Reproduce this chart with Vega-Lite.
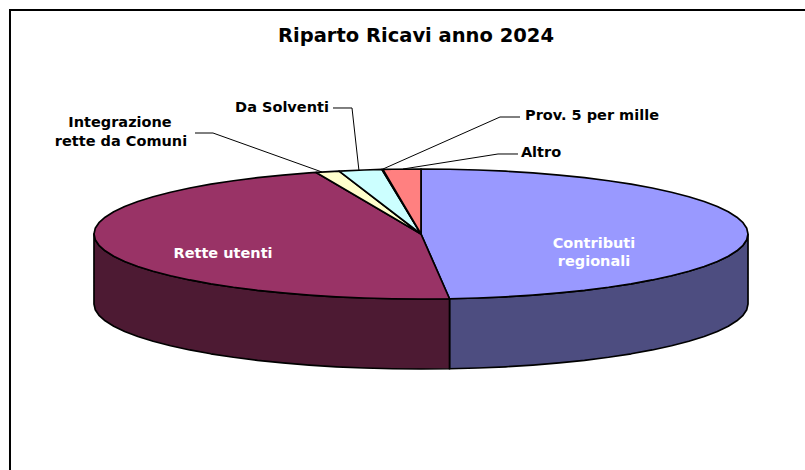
{
  "$schema": "https://vega.github.io/schema/vega-lite/v6.json",
  "autosize": "none",
  "width": 805,
  "height": 470,
  "padding": 0,
  "background": "white",
  "config": {"view": {"stroke": null}},
  "datasets": {
    "pie": [
      {"part":"Contributi lato","k":0,"u":1,"v":0},{"part":"Contributi lato","k":1,"u":0.9962,"v":-0.0872},{"part":"Contributi lato","k":2,"u":0.9848,"v":-0.1736},{"part":"Contributi lato","k":3,"u":0.9659,"v":-0.2588},{"part":"Contributi lato","k":4,"u":0.9397,"v":-0.342},{"part":"Contributi lato","k":5,"u":0.9063,"v":-0.4226},{"part":"Contributi lato","k":6,"u":0.866,"v":-0.5},{"part":"Contributi lato","k":7,"u":0.8192,"v":-0.5736},{"part":"Contributi lato","k":8,"u":0.766,"v":-0.6428},{"part":"Contributi lato","k":9,"u":0.7071,"v":-0.7071},{"part":"Contributi lato","k":10,"u":0.6428,"v":-0.766},{"part":"Contributi lato","k":11,"u":0.5736,"v":-0.8192},{"part":"Contributi lato","k":12,"u":0.5,"v":-0.866},{"part":"Contributi lato","k":13,"u":0.4226,"v":-0.9063},{"part":"Contributi lato","k":14,"u":0.342,"v":-0.9397},{"part":"Contributi lato","k":15,"u":0.2588,"v":-0.9659},{"part":"Contributi lato","k":16,"u":0.1736,"v":-0.9848},{"part":"Contributi lato","k":17,"u":0.0872,"v":-0.9962},
      {"part":"Contributi lato","k":18,"u":0.0872,"v":-2.0731},{"part":"Contributi lato","k":19,"u":0.1736,"v":-2.0617},{"part":"Contributi lato","k":20,"u":0.2588,"v":-2.0428},{"part":"Contributi lato","k":21,"u":0.342,"v":-2.0166},{"part":"Contributi lato","k":22,"u":0.4226,"v":-1.9832},{"part":"Contributi lato","k":23,"u":0.5,"v":-1.9429},{"part":"Contributi lato","k":24,"u":0.5736,"v":-1.8961},{"part":"Contributi lato","k":25,"u":0.6428,"v":-1.8429},{"part":"Contributi lato","k":26,"u":0.7071,"v":-1.784},{"part":"Contributi lato","k":27,"u":0.766,"v":-1.7197},{"part":"Contributi lato","k":28,"u":0.8192,"v":-1.6505},{"part":"Contributi lato","k":29,"u":0.866,"v":-1.5769},{"part":"Contributi lato","k":30,"u":0.9063,"v":-1.4995},{"part":"Contributi lato","k":31,"u":0.9397,"v":-1.4189},{"part":"Contributi lato","k":32,"u":0.9659,"v":-1.3357},{"part":"Contributi lato","k":33,"u":0.9848,"v":-1.2505},{"part":"Contributi lato","k":34,"u":0.9962,"v":-1.1641},{"part":"Contributi lato","k":35,"u":1,"v":-1.0769},{"part":"Contributi lato","k":36,"u":1,"v":0},

      {"part":"Rette lato","k":0,"u":0.0872,"v":-0.9962},{"part":"Rette lato","k":1,"u":0,"v":-1},{"part":"Rette lato","k":2,"u":-0.0872,"v":-0.9962},{"part":"Rette lato","k":3,"u":-0.1736,"v":-0.9848},{"part":"Rette lato","k":4,"u":-0.2588,"v":-0.9659},{"part":"Rette lato","k":5,"u":-0.342,"v":-0.9397},{"part":"Rette lato","k":6,"u":-0.4226,"v":-0.9063},{"part":"Rette lato","k":7,"u":-0.5,"v":-0.866},{"part":"Rette lato","k":8,"u":-0.5736,"v":-0.8192},{"part":"Rette lato","k":9,"u":-0.6428,"v":-0.766},{"part":"Rette lato","k":10,"u":-0.7071,"v":-0.7071},{"part":"Rette lato","k":11,"u":-0.766,"v":-0.6428},{"part":"Rette lato","k":12,"u":-0.8192,"v":-0.5736},{"part":"Rette lato","k":13,"u":-0.866,"v":-0.5},{"part":"Rette lato","k":14,"u":-0.9063,"v":-0.4226},{"part":"Rette lato","k":15,"u":-0.9397,"v":-0.342},{"part":"Rette lato","k":16,"u":-0.9659,"v":-0.2588},{"part":"Rette lato","k":17,"u":-0.9848,"v":-0.1736},{"part":"Rette lato","k":18,"u":-0.9962,"v":-0.0872},{"part":"Rette lato","k":19,"u":-1,"v":0},
      {"part":"Rette lato","k":20,"u":-1,"v":-1.0769},{"part":"Rette lato","k":21,"u":-0.9962,"v":-1.1641},{"part":"Rette lato","k":22,"u":-0.9848,"v":-1.2505},{"part":"Rette lato","k":23,"u":-0.9659,"v":-1.3357},{"part":"Rette lato","k":24,"u":-0.9397,"v":-1.4189},{"part":"Rette lato","k":25,"u":-0.9063,"v":-1.4995},{"part":"Rette lato","k":26,"u":-0.866,"v":-1.5769},{"part":"Rette lato","k":27,"u":-0.8192,"v":-1.6505},{"part":"Rette lato","k":28,"u":-0.766,"v":-1.7197},{"part":"Rette lato","k":29,"u":-0.7071,"v":-1.784},{"part":"Rette lato","k":30,"u":-0.6428,"v":-1.8429},{"part":"Rette lato","k":31,"u":-0.5736,"v":-1.8961},{"part":"Rette lato","k":32,"u":-0.5,"v":-1.9429},{"part":"Rette lato","k":33,"u":-0.4226,"v":-1.9832},{"part":"Rette lato","k":34,"u":-0.342,"v":-2.0166},{"part":"Rette lato","k":35,"u":-0.2588,"v":-2.0428},{"part":"Rette lato","k":36,"u":-0.1736,"v":-2.0617},{"part":"Rette lato","k":37,"u":-0.0872,"v":-2.0731},{"part":"Rette lato","k":38,"u":0,"v":-2.0769},{"part":"Rette lato","k":39,"u":0.0872,"v":-2.0731},{"part":"Rette lato","k":40,"u":0.0872,"v":-0.9962},

      {"part":"Contributi regionali","k":0,"u":0,"v":0},{"part":"Contributi regionali","k":1,"u":0,"v":1},{"part":"Contributi regionali","k":2,"u":0.0872,"v":0.9962},{"part":"Contributi regionali","k":3,"u":0.1736,"v":0.9848},{"part":"Contributi regionali","k":4,"u":0.2588,"v":0.9659},{"part":"Contributi regionali","k":5,"u":0.342,"v":0.9397},{"part":"Contributi regionali","k":6,"u":0.4226,"v":0.9063},{"part":"Contributi regionali","k":7,"u":0.5,"v":0.866},{"part":"Contributi regionali","k":8,"u":0.5736,"v":0.8192},{"part":"Contributi regionali","k":9,"u":0.6428,"v":0.766},{"part":"Contributi regionali","k":10,"u":0.7071,"v":0.7071},{"part":"Contributi regionali","k":11,"u":0.766,"v":0.6428},{"part":"Contributi regionali","k":12,"u":0.8192,"v":0.5736},{"part":"Contributi regionali","k":13,"u":0.866,"v":0.5},{"part":"Contributi regionali","k":14,"u":0.9063,"v":0.4226},{"part":"Contributi regionali","k":15,"u":0.9397,"v":0.342},{"part":"Contributi regionali","k":16,"u":0.9659,"v":0.2588},{"part":"Contributi regionali","k":17,"u":0.9848,"v":0.1736},{"part":"Contributi regionali","k":18,"u":0.9962,"v":0.0872},{"part":"Contributi regionali","k":19,"u":1,"v":0},{"part":"Contributi regionali","k":20,"u":0.9962,"v":-0.0872},{"part":"Contributi regionali","k":21,"u":0.9848,"v":-0.1736},{"part":"Contributi regionali","k":22,"u":0.9659,"v":-0.2588},{"part":"Contributi regionali","k":23,"u":0.9397,"v":-0.342},{"part":"Contributi regionali","k":24,"u":0.9063,"v":-0.4226},{"part":"Contributi regionali","k":25,"u":0.866,"v":-0.5},{"part":"Contributi regionali","k":26,"u":0.8192,"v":-0.5736},{"part":"Contributi regionali","k":27,"u":0.766,"v":-0.6428},{"part":"Contributi regionali","k":28,"u":0.7071,"v":-0.7071},{"part":"Contributi regionali","k":29,"u":0.6428,"v":-0.766},{"part":"Contributi regionali","k":30,"u":0.5736,"v":-0.8192},{"part":"Contributi regionali","k":31,"u":0.5,"v":-0.866},{"part":"Contributi regionali","k":32,"u":0.4226,"v":-0.9063},{"part":"Contributi regionali","k":33,"u":0.342,"v":-0.9397},{"part":"Contributi regionali","k":34,"u":0.2588,"v":-0.9659},{"part":"Contributi regionali","k":35,"u":0.1736,"v":-0.9848},{"part":"Contributi regionali","k":36,"u":0.0872,"v":-0.9962},{"part":"Contributi regionali","k":37,"u":0,"v":0},

      {"part":"Rette utenti","k":0,"u":0,"v":0},{"part":"Rette utenti","k":1,"u":0.0872,"v":-0.9962},{"part":"Rette utenti","k":2,"u":0,"v":-1},{"part":"Rette utenti","k":3,"u":-0.0872,"v":-0.9962},{"part":"Rette utenti","k":4,"u":-0.1736,"v":-0.9848},{"part":"Rette utenti","k":5,"u":-0.2588,"v":-0.9659},{"part":"Rette utenti","k":6,"u":-0.342,"v":-0.9397},{"part":"Rette utenti","k":7,"u":-0.4226,"v":-0.9063},{"part":"Rette utenti","k":8,"u":-0.5,"v":-0.866},{"part":"Rette utenti","k":9,"u":-0.5736,"v":-0.8192},{"part":"Rette utenti","k":10,"u":-0.6428,"v":-0.766},{"part":"Rette utenti","k":11,"u":-0.7071,"v":-0.7071},{"part":"Rette utenti","k":12,"u":-0.766,"v":-0.6428},{"part":"Rette utenti","k":13,"u":-0.8192,"v":-0.5736},{"part":"Rette utenti","k":14,"u":-0.866,"v":-0.5},{"part":"Rette utenti","k":15,"u":-0.9063,"v":-0.4226},{"part":"Rette utenti","k":16,"u":-0.9397,"v":-0.342},{"part":"Rette utenti","k":17,"u":-0.9659,"v":-0.2588},{"part":"Rette utenti","k":18,"u":-0.9848,"v":-0.1736},{"part":"Rette utenti","k":19,"u":-0.9962,"v":-0.0872},{"part":"Rette utenti","k":20,"u":-1,"v":0},{"part":"Rette utenti","k":21,"u":-0.9962,"v":0.0872},{"part":"Rette utenti","k":22,"u":-0.9848,"v":0.1736},{"part":"Rette utenti","k":23,"u":-0.9659,"v":0.2588},{"part":"Rette utenti","k":24,"u":-0.9397,"v":0.342},{"part":"Rette utenti","k":25,"u":-0.9063,"v":0.4226},{"part":"Rette utenti","k":26,"u":-0.866,"v":0.5},{"part":"Rette utenti","k":27,"u":-0.8192,"v":0.5736},{"part":"Rette utenti","k":28,"u":-0.766,"v":0.6428},{"part":"Rette utenti","k":29,"u":-0.7071,"v":0.7071},{"part":"Rette utenti","k":30,"u":-0.6428,"v":0.766},{"part":"Rette utenti","k":31,"u":-0.5736,"v":0.8192},{"part":"Rette utenti","k":32,"u":-0.5,"v":0.866},{"part":"Rette utenti","k":33,"u":-0.4226,"v":0.9063},{"part":"Rette utenti","k":34,"u":-0.342,"v":0.9397},{"part":"Rette utenti","k":35,"u":-0.3206,"v":0.9472},{"part":"Rette utenti","k":36,"u":0,"v":0},

      {"part":"Integrazione rette da Comuni","k":0,"u":0,"v":0},{"part":"Integrazione rette da Comuni","k":1,"u":-0.3206,"v":0.9472},{"part":"Integrazione rette da Comuni","k":2,"u":-0.2924,"v":0.9563},{"part":"Integrazione rette da Comuni","k":3,"u":-0.2504,"v":0.9681},{"part":"Integrazione rette da Comuni","k":4,"u":0,"v":0},

      {"part":"Da Solventi","k":0,"u":0,"v":0},{"part":"Da Solventi","k":1,"u":-0.2504,"v":0.9681},{"part":"Da Solventi","k":2,"u":-0.1736,"v":0.9848},{"part":"Da Solventi","k":3,"u":-0.1193,"v":0.9929},{"part":"Da Solventi","k":4,"u":0,"v":0},

      {"part":"Prov. 5 per mille","k":0,"u":0,"v":0},{"part":"Prov. 5 per mille","k":1,"u":-0.1193,"v":0.9929},{"part":"Prov. 5 per mille","k":2,"u":-0.1165,"v":0.9932},{"part":"Prov. 5 per mille","k":3,"u":0,"v":0},

      {"part":"Altro","k":0,"u":0,"v":0},{"part":"Altro","k":1,"u":-0.1165,"v":0.9932},{"part":"Altro","k":2,"u":-0.0872,"v":0.9962},{"part":"Altro","k":3,"u":0,"v":1},{"part":"Altro","k":4,"u":0,"v":0}
    ],
    "leaders": [
      {"line":"Integrazione","k":0,"u":-0.6911,"v":1.5538},{"line":"Integrazione","k":1,"u":-0.6361,"v":1.5538},{"line":"Integrazione","k":2,"u":-0.3028,"v":0.9538},
      {"line":"Da Solventi","k":0,"u":-0.2691,"v":1.9385},{"line":"Da Solventi","k":1,"u":-0.211,"v":1.9385},{"line":"Da Solventi","k":2,"u":-0.1896,"v":0.9692},
      {"line":"Prov","k":0,"u":0.3028,"v":1.8},{"line":"Prov","k":1,"u":0.2416,"v":1.8},{"line":"Prov","k":2,"u":-0.1162,"v":1},
      {"line":"Altro","k":0,"u":0.2966,"v":1.2308},{"line":"Altro","k":1,"u":0.2355,"v":1.2308},{"line":"Altro","k":2,"u":-0.055,"v":1}
    ],
    "frame": [
      {"k":0,"u":-1.2569,"v":-3.6308},{"k":1,"u":-1.2569,"v":3.4462},{"k":2,"u":1.1743,"v":3.4462}
    ],
    "darkLabels": [
      {"label":"Integrazione","u":-0.9205,"v":1.7077},
      {"label":"rette da Comuni","u":-0.9174,"v":1.4154},
      {"label":"Da Solventi","u":-0.4251,"v":1.9384},
      {"label":"Prov. 5 per mille","u":0.5229,"v":1.8154},
      {"label":"Altro","u":0.367,"v":1.2462}
    ],
    "lightLabels": [
      {"label":"Contributi","u":0.529,"v":-0.1539},
      {"label":"regionali","u":0.529,"v":-0.4308},
      {"label":"Rette utenti","u":-0.6055,"v":-0.3077}
    ],
    "heading": [
      {"label":"Riparto Ricavi anno 2024","u":-0.0153,"v":3.0461}
    ]
  },
  "encoding": {
    "x": {"field":"u","type":"quantitative","axis":null,"scale":{"domain":[-1.28746,1.17431],"nice":false,"zero":false}},
    "y": {"field":"v","type":"quantitative","axis":null,"scale":{"domain":[-3.63077,3.6],"nice":false,"zero":false}}
  },
  "layer": [
    {
      "data": {"name":"frame"},
      "mark": {"type":"line","stroke":"#000000","strokeWidth":2,"strokeCap":"square","clip":false},
      "encoding": {"order":{"field":"k","type":"quantitative"}}
    },
    {
      "data": {"name":"pie"},
      "mark": {"type":"line","stroke":"#000000","strokeWidth":1.7,"strokeJoin":"round"},
      "encoding": {
        "order":{"field":"k","type":"quantitative"},
        "fill":{"field":"part","type":"nominal","legend":null,"scale":{
          "domain":["Contributi lato","Rette lato","Contributi regionali","Rette utenti","Integrazione rette da Comuni","Da Solventi","Prov. 5 per mille","Altro"],
          "range":["#4D4D80","#4D1A33","#9999FF","#993366","#FFFFCC","#CCFFFF","#660066","#FF8080"]
        }}
      }
    },
    {
      "data": {"name":"leaders"},
      "mark": {"type":"line","stroke":"#000000","strokeWidth":1},
      "encoding": {
        "detail":{"field":"line","type":"nominal"},
        "order":{"field":"k","type":"quantitative"}
      }
    },
    {
      "data": {"name":"darkLabels"},
      "mark": {"type":"text","font":"DejaVu Sans","fontWeight":"bold","fontSize":14.5,"color":"#000000","align":"center","baseline":"middle"},
      "encoding": {"text":{"field":"label","type":"nominal"}}
    },
    {
      "data": {"name":"lightLabels"},
      "mark": {"type":"text","font":"DejaVu Sans","fontWeight":"bold","fontSize":14.5,"color":"#FFFFFF","align":"center","baseline":"middle"},
      "encoding": {"text":{"field":"label","type":"nominal"}}
    },
    {
      "data": {"name":"heading"},
      "mark": {"type":"text","font":"DejaVu Sans","fontWeight":"bold","fontSize":19.5,"color":"#000000","align":"center","baseline":"middle"},
      "encoding": {"text":{"field":"label","type":"nominal"}}
    }
  ]
}
